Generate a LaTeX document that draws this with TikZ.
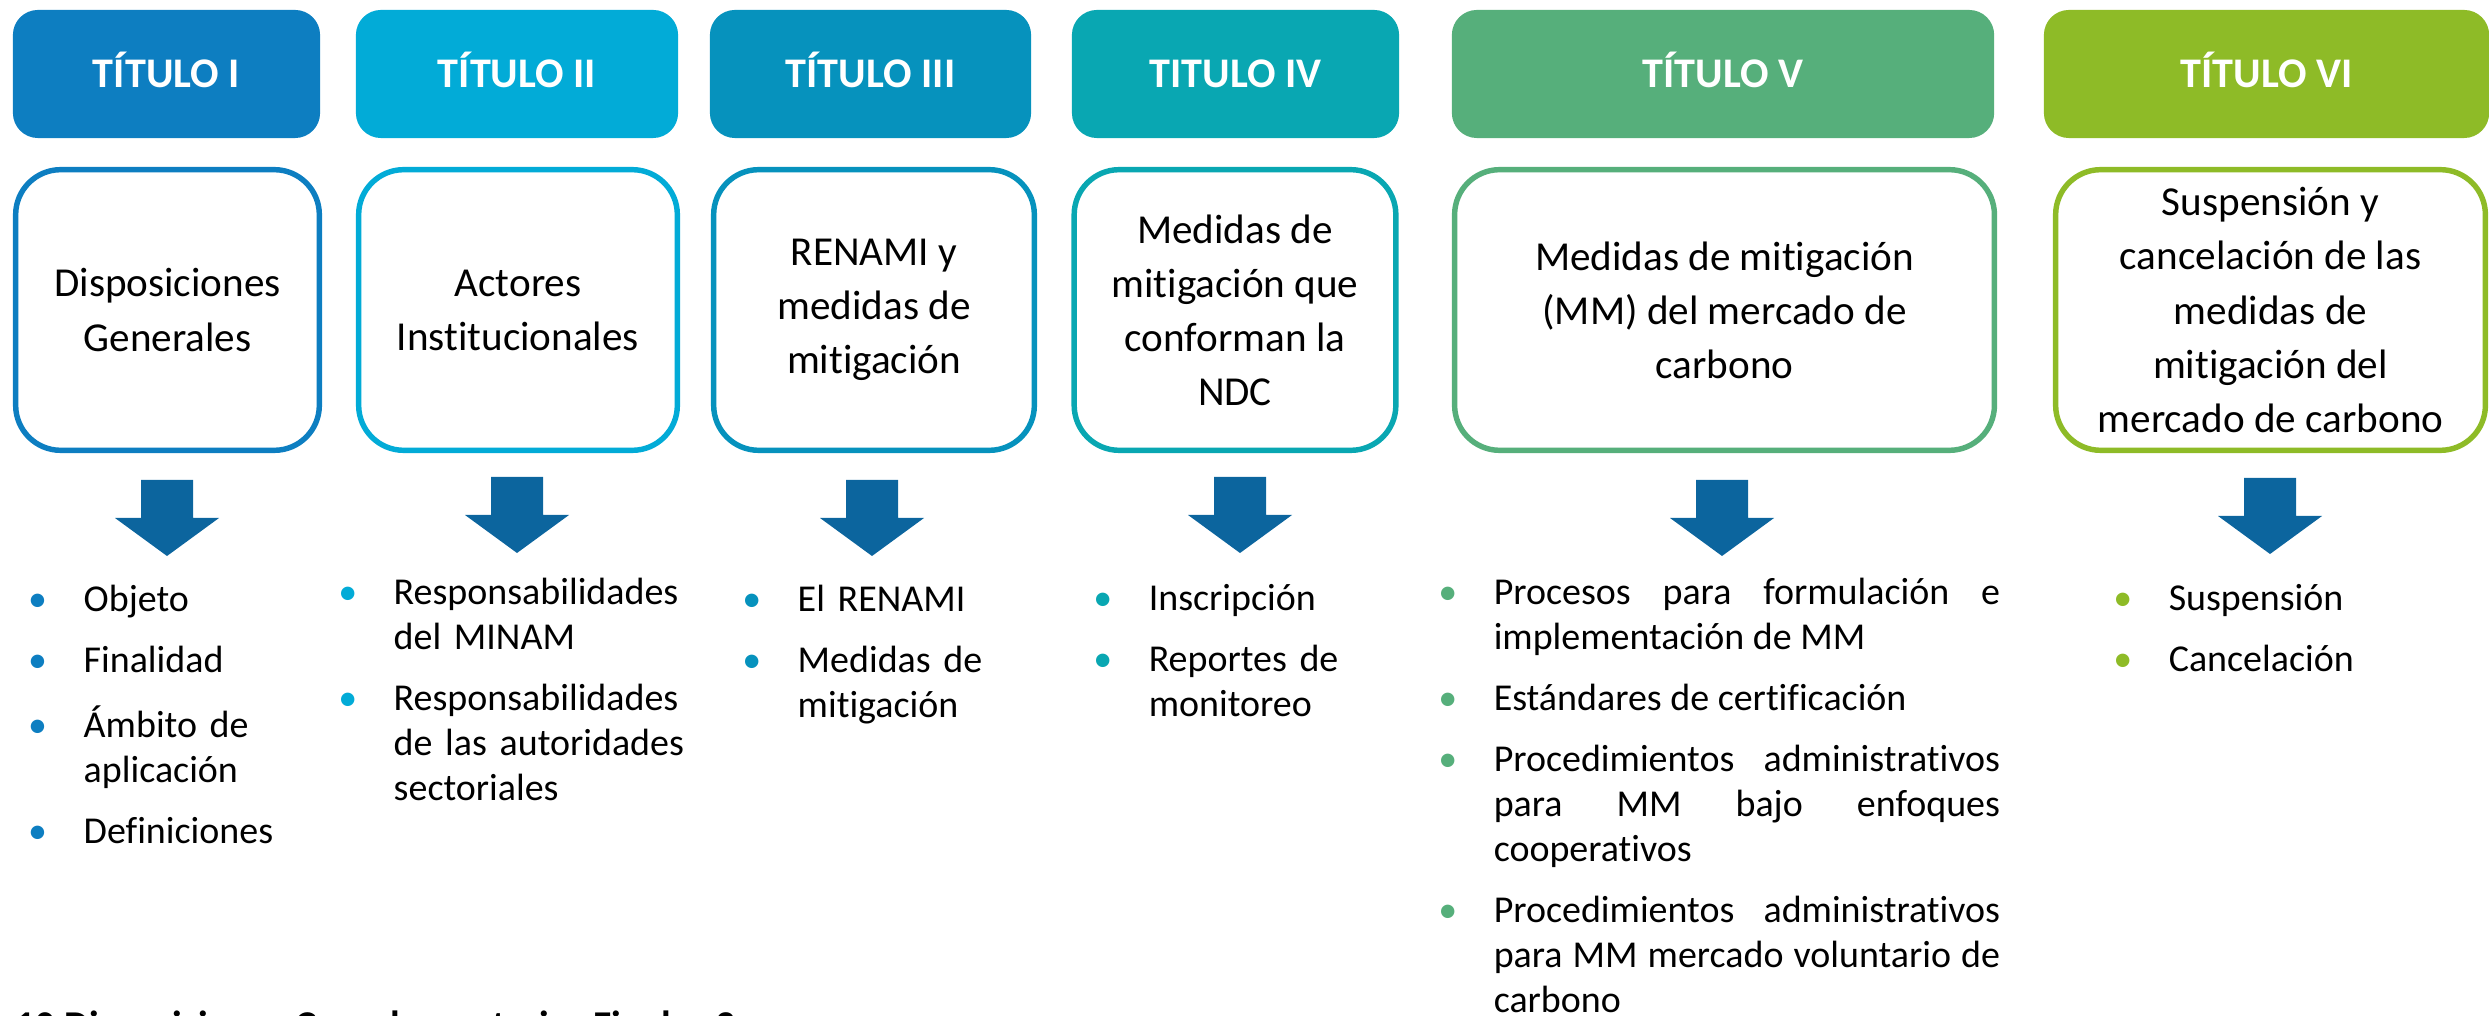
\documentclass[tikz,border=0pt]{standalone}
\usepackage{fontspec}
\setmainfont{Carlito}[Ligatures=NoCommon]
\usepackage{tikz}

\definecolor{tone1}{HTML}{0D7EC1}
\definecolor{tone2}{HTML}{02ABD7}
\definecolor{tone3}{HTML}{0692BD}
\definecolor{tone4}{HTML}{09A7B2}
\definecolor{tone5}{HTML}{56AF7B}
\definecolor{tone6}{HTML}{8EBB27}
\definecolor{arrowblue}{HTML}{0C659E}

\hyphenpenalty=10000
\exhyphenpenalty=10000

% one bullet item of a list
\newcommand{\itm}[2]{\hangindent=0.53cm\hangafter=1\noindent\makebox[0.53cm][l]{\makebox[0.14cm][c]{\textcolor{#1}{\textbullet}}}\strut #2\par}

\begin{document}
\begin{tikzpicture}[x=0.01cm, y=-0.01cm]
            \useasboundingbox (0, 0) rectangle (2489, 1016);
            \clip (0, 0) rectangle (2489, 1016);

            \begin{scope}[every node/.style={rounded corners=0.25cm, inner sep=0pt, minimum height=1.28cm, text height=7.7pt, text depth=0pt, text=white, font=\fontsize{12}{14}\selectfont\bfseries}]
                \node (T1) [fill=tone1, minimum width=3.07cm] at (166.5, 74) {TÍTULO I};
                \node (T2) [fill=tone2, minimum width=3.22cm] at (517, 74) {TÍTULO II};
                \node (T3) [fill=tone3, minimum width=3.21cm] at (870.5, 74) {TÍTULO III};
                \node (T4) [fill=tone4, minimum width=3.27cm] at (1235.5, 74) {TITULO IV};
                \node (T5) [fill=tone5, minimum width=5.42cm] at (1723, 74) {TÍTULO V};
                \node (T6) [fill=tone6, minimum width=4.45cm] at (2266.5, 74) {TÍTULO VI};
            \end{scope}

            \begin{scope}[every node/.style={draw, line width=1.55pt, rounded corners=0.45cm, fill=white, inner sep=0pt, minimum height=2.805cm, align=center, font=\fontsize{11.7}{15.36}\selectfont}]
                \node (C1) [draw=tone1, minimum width=3.035cm] at (167.5, 310) {Disposiciones\\Generales};
                \node (C2) [draw=tone2, minimum width=3.185cm] at (518, 310) {Actores\\Institucionales};
                \node (C3) [draw=tone3, minimum width=3.205cm] at (874, 310) {RENAMI y\\medidas de\\mitigación};
                \node (C4) [draw=tone4, minimum width=3.215cm] at (1235, 310) {Medidas de\\mitigación que\\conforman la\\NDC};
                \node (C5) [draw=tone5, minimum width=5.395cm] at (1724.5, 310) {Medidas de mitigación\\(MM) del mercado de\\carbono};
                \node (C6) [draw=tone6, minimum width=4.295cm] at (2270.5, 310) {Suspensión y\\cancelación de las\\medidas de\\mitigación del\\mercado de carbono};
            \end{scope}

            % block arrows under the boxes
            \fill[arrowblue] (141, 480) -- ++(52, 0) -- ++(0, 38) -- ++(26, 0) -- ++(-52, 38) -- ++(-52, -38) -- ++(26, 0) -- cycle;
            \fill[arrowblue] (491, 477) -- ++(52, 0) -- ++(0, 38) -- ++(26, 0) -- ++(-52, 38) -- ++(-52, -38) -- ++(26, 0) -- cycle;
            \fill[arrowblue] (846, 480) -- ++(52, 0) -- ++(0, 38) -- ++(26, 0) -- ++(-52, 38) -- ++(-52, -38) -- ++(26, 0) -- cycle;
            \fill[arrowblue] (1214, 477) -- ++(52, 0) -- ++(0, 38) -- ++(26, 0) -- ++(-52, 38) -- ++(-52, -38) -- ++(26, 0) -- cycle;
            \fill[arrowblue] (1696, 480) -- ++(52, 0) -- ++(0, 38) -- ++(26, 0) -- ++(-52, 38) -- ++(-52, -38) -- ++(26, 0) -- cycle;
            \fill[arrowblue] (2244, 478) -- ++(52, 0) -- ++(0, 38) -- ++(26, 0) -- ++(-52, 38) -- ++(-52, -38) -- ++(26, 0) -- cycle;

            \begin{scope}[every node/.style={anchor=north west, inner sep=0pt, text width=4cm, align=left, font=\fontsize{10.8}{12.8}\selectfont, execute at begin node={\setlength{\parskip}{4.55pt}}}]
                \node (L1) at (30, 579.5) {\itm{tone1}{Objeto}\itm{tone1}{Finalidad}\itm{tone1}{Ámbito de\newline aplicación}\itm{tone1}{Definiciones}};
                \node (L2) at (340, 572.5) {\itm{tone2}{Responsabilidades\newline del MINAM}\itm{tone2}{Responsabilidades\newline de las autoridades\newline sectoriales}};
                \node (L3) at (744, 579.5) {\itm{tone3}{El RENAMI}\itm{tone3}{Medidas de\newline mitigación}};
                \node (L4) at (1095, 578.5) {\itm{tone4}{Inscripción}\itm{tone4}{Reportes de\newline monitoreo}};
                \node (L5) [text width=5.59cm, align=justify] at (1440, 572.5) {\itm{tone5}{Procesos para formulación e\linebreak implementación de MM}\itm{tone5}{Estándares de certificación}\itm{tone5}{Procedimientos administrativos\linebreak para MM bajo enfoques\linebreak cooperativos}\itm{tone5}{Procedimientos administrativos\linebreak para MM mercado voluntario de\linebreak carbono}};
                \node (L6) at (2115, 578.5) {\itm{tone6}{Suspensión}\itm{tone6}{Cancelación}};
            \end{scope}

            \node (foot) [anchor=base west, inner sep=0pt, font=\fontsize{11.2}{13}\selectfont\bfseries] at (15, 1038) {10 Disposiciones Complementarias Finales 3};
        \end{tikzpicture}
\end{document}
